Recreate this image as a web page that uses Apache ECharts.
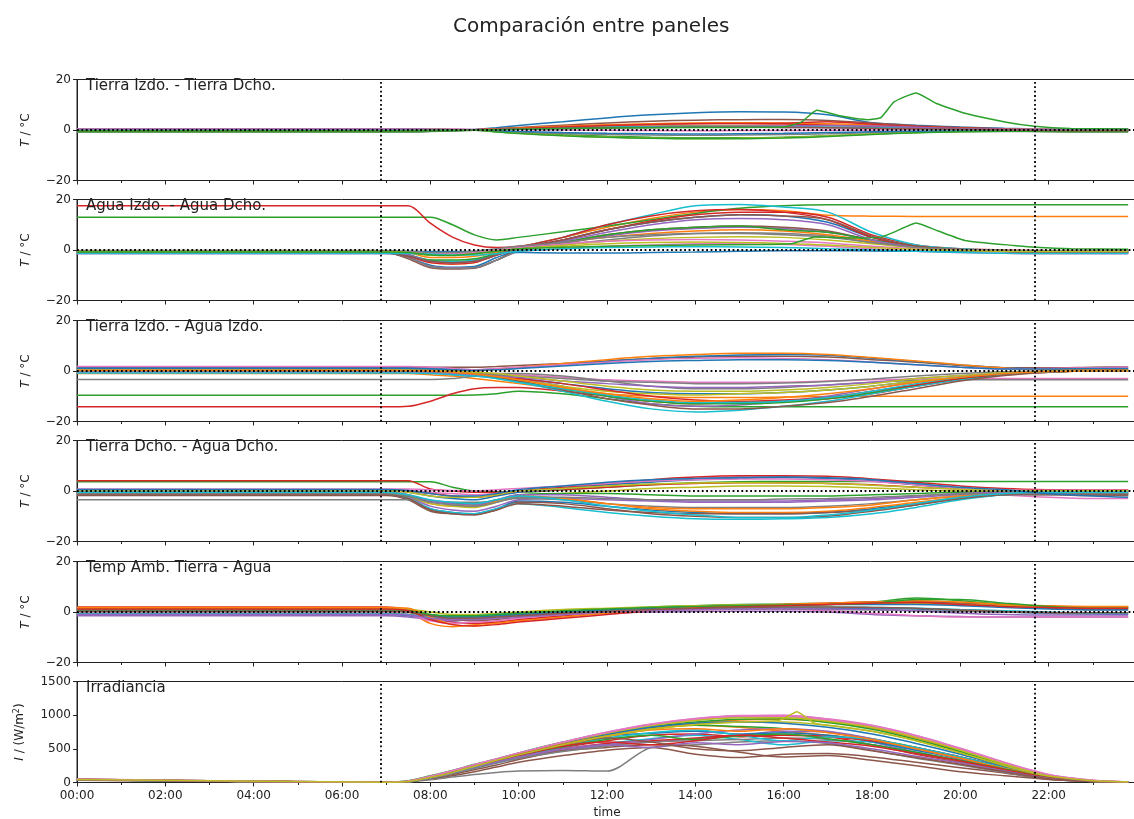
<!DOCTYPE html>
<html>
<head>
<meta charset="utf-8">
<script src="https://cdn.jsdelivr.net/npm/echarts/dist/echarts.min.js"></script>
<style>
  html, body { margin: 0; padding: 0; background: #fff; }
  #chart { width: 1134px; height: 819px; }
</style>
</head>
<body>
<div id="chart"></div>
<script>
// ---- labels ----
const TITLE = 'Comparación entre paneles';
const PANEL_LABELS = [
  'Tierra Izdo. - Tierra Dcho.',
  'Agua Izdo. - Agua Dcho.',
  'Tierra Izdo. - Agua Izdo.',
  'Tierra Dcho. - Agua Dcho.',
  'Temp Amb. Tierra - Agua',
  'Irradiancia'
];
const T_TICKS = [-20, 0, 20];
const I_TICKS = [0, 500, 1000, 1500];
const X_TICK_HOURS = [0, 2, 4, 6, 8, 10, 12, 14, 16, 18, 20, 22];
const MARK_HOURS = [6.88, 21.69];   // sunrise / sunset

// ---- sample hours (h) shared by the curves below ----
const HOURS = [0, 7, 7.5, 8, 8.5, 9, 9.5, 10, 11, 12, 13, 14, 15, 16, 17, 18, 19, 20, 21, 22, 23, 23.8];

// Tierra Izdo. - Tierra Dcho. (°C)
const P1_LINES = [
  [ 0.1, 0.1, 0.1, 0.1, 0.1, 0.2, 0.9, 1.8, 3.3, 4.8, 6.0, 6.8, 7.2, 7.1, 6.0, 2.9, 1.9, 1.2, 0.7, 0.3, 0.2, 0.2],
  [-0.3,-0.3,-0.3,-0.2,-0.1, 0.1, 0.3, 0.6, 1.0, 1.4, 1.6, 1.7, 1.7, 1.5, 1.2, 0.8, 0.5, 0.3, 0.1, 0.0,-0.1,-0.1],
  [-0.6,-0.6,-0.6,-0.5,-0.3, 0.0,-0.6,-1.1,-1.9,-2.5,-2.9,-3.1,-3.1,-2.9,-2.3,-1.6,-1.0,-0.6,-0.4,-0.4,-0.5,-0.5],
  [ 0.4, 0.4, 0.4, 0.3, 0.2, 0.1, 0.4, 0.7, 1.3, 1.9, 2.3, 2.6, 2.6, 2.4, 2.0, 1.4, 0.9, 0.5, 0.3, 0.2, 0.2, 0.2],
  [-0.2,-0.2,-0.2,-0.1, 0.0, 0.1, 0.3, 0.5, 0.8, 1.0, 1.1, 1.2, 1.1, 1.0, 0.9, 0.7, 0.5, 0.3, 0.1, 0.0,-0.1,-0.2],
  [ 0.0, 0.0, 0.0, 0.0, 0.0, 0.1, 0.5, 1.0, 1.9, 2.8, 3.5, 3.9, 4.1, 4.2, 3.8, 2.8, 1.7, 1.0, 0.5, 0.2, 0.1, 0.1],
  [ 0.5, 0.5, 0.5, 0.4, 0.3, 0.2, 0.2, 0.1, 0.0,-0.1,-0.2,-0.3,-0.2,-0.2,-0.1, 0.0, 0.1, 0.2, 0.3, 0.4, 0.5, 0.5],
  [-0.8,-0.8,-0.8,-0.6,-0.4,-0.1,-0.5,-0.9,-1.4,-1.8,-2.0,-2.1,-2.0,-1.8,-1.5,-1.1,-0.8,-0.6,-0.6,-0.7,-0.8,-0.8],
  [-0.4,-0.4,-0.4,-0.3,-0.2, 0.0,-0.7,-1.3,-2.2,-2.8,-3.2,-3.4,-3.3,-3.0,-2.4,-1.6,-1.0,-0.6,-0.4,-0.4,-0.4,-0.4],
  [ 0.2, 0.2, 0.2, 0.2, 0.1, 0.1, 0.3, 0.5, 0.9, 1.2, 1.4, 1.5, 1.5, 1.4, 1.2, 1.0, 0.7, 0.4, 0.2, 0.2, 0.2, 0.2],
  [-0.5,-0.5,-0.5,-0.4,-0.2, 0.0,-0.3,-0.6,-1.0,-1.3,-1.5,-1.6,-1.5,-1.3,-1.0,-0.7,-0.5,-0.4,-0.4,-0.5,-0.5,-0.5],
  [ 0.2, 0.2, 0.2, 0.2, 0.1, 0.1, 0.4, 0.8, 1.5, 2.1, 2.5, 2.8, 2.9, 2.8, 2.5, 2.0, 1.3, 0.7, 0.3, 0.2, 0.2, 0.2],
  [-0.7,-0.7,-0.7,-0.5,-0.3,-0.1,-0.8,-1.4,-2.3,-2.9,-3.3,-3.5,-3.5,-3.2,-2.6,-1.8,-1.1,-0.7,-0.5,-0.6,-0.7,-0.7],
  [-0.1,-0.1,-0.1,-0.1, 0.0, 0.1, 0.3, 0.6, 1.2, 1.8, 2.2, 2.5, 2.6, 2.7, 3.3, 2.3, 1.4, 0.8, 0.4, 0.1, 0.0,-0.1],
  [ 0.3, 0.3, 0.3, 0.2, 0.2, 0.1, 0.2, 0.4, 0.6, 0.8, 1.0, 1.2, 1.4, 1.6, 1.8, 1.6, 1.1, 0.6, 0.3, 0.2, 0.3, 0.3],
  [-0.3,-0.3,-0.3,-0.2,-0.1, 0.0, 0.2, 0.4, 0.7, 0.9, 1.0, 1.1, 1.1, 1.0, 0.9, 0.7, 0.5, 0.3, 0.0,-0.2,-0.3,-0.3]
];
// [hour, °C] for the curve with the evening spike
const P1_SPIKE = [[0,-0.3],[7,-0.3],[9,0],[10,0.3],[12,0.8],[14,1],[16,1.2],[16.4,3.1],[16.75,7.8],[17.3,5.5],
  [17.9,4.1],[18.2,4.9],[18.5,11.1],[19.0,14.7],[19.46,10.5],[20.13,6.5],[21.04,3.1],[21.68,1.5],[22.5,0.6],[23.8,0.4]];

// Agua Izdo. - Agua Dcho. (°C)
const P2_LINES = [
  [-1.0,-1.0,-3.0,-6.0,-6.8,-6.5,-3.0, 0.0, 4.0, 8.0,11.0,13.0,14.0,13.5,11.0, 5.0, 1.5, 0.2,-0.5,-0.8,-0.9,-0.9],
  [-0.5,-0.5,-2.0,-5.0,-5.5,-5.0,-2.0, 1.0, 5.0, 9.0,12.5,15.0,16.0,15.5,13.8,13.4,13.3,13.3,13.3,13.3,13.3,13.3],
  [13.0,13.0,13.0,13.0,10.0, 6.0, 4.0, 5.0, 7.2, 9.5,12.0,14.5,16.5,17.5,17.9,17.9,17.9,17.9,17.9,17.9,17.9,17.9],
  [17.5,17.5,17.5,10.6, 5.1, 2.0, 1.0, 1.5, 4.0, 8.0,11.5,14.0,15.0,15.0,13.0, 6.0, 2.0, 0.5, 0.0,-0.3,-0.5,-0.5],
  [-1.2,-1.2,-3.0,-6.5,-7.0,-7.0,-4.0,-0.5, 2.5, 5.5, 7.5, 8.5, 9.0, 8.5, 7.0, 4.0, 1.5, 0.3,-0.5,-1.0,-1.2,-1.2],
  [-1.0,-1.0,-3.5,-7.0,-7.5,-7.2,-4.0, 0.0, 3.0, 6.0, 8.0, 9.0, 9.5, 9.0, 7.5, 4.0, 1.5, 0.3,-0.5,-0.8,-1.0,-1.0],
  [-1.5,-1.5,-1.5,-1.5,-1.5,-1.2,-1.0,-0.5, 0.5, 1.5, 2.0, 2.5, 2.5, 2.2, 1.5, 0.5,-0.5,-1.0,-1.3,-1.5,-1.5,-1.5],
  [-1.0,-1.0,-3.0,-6.5,-7.2,-7.0,-4.0,-0.5, 2.0, 4.0, 5.5, 6.5, 6.8, 6.5, 5.5, 3.0, 1.0, 0.0,-0.5,-0.8,-1.0,-1.0],
  [-0.5,-0.5,-1.0,-2.0,-2.0,-1.5,-0.5, 0.5, 2.0, 3.5, 4.5, 5.0, 5.2, 5.0, 4.0, 2.5, 1.0, 0.3,-0.2,-0.4,-0.5,-0.5],
  [-0.8,-0.8,-2.0,-4.0,-4.5,-4.0,-1.5, 1.0, 5.0,10.0,14.0,17.5,18.0,17.0,15.0, 7.0, 2.0, 0.5,-0.3,-0.6,-0.8,-0.8],
  [-0.6,-0.6,-0.6,-0.6,-0.6,-0.6,-0.8,-1.0,-1.2,-1.2,-1.0,-0.8,-0.5,-0.3,-0.3,-0.4,-0.5,-0.5,-0.6,-0.6,-0.6,-0.6],
  [-0.3,-0.3,-1.0,-3.0,-3.0,-2.5,-1.0, 1.0, 3.0, 5.0, 6.5, 7.5, 8.0, 7.5, 6.0, 3.5, 1.2, 0.2,-0.3,-0.4,-0.4,-0.4],
  [-0.8,-0.8,-2.0,-4.0,-4.0,-3.5,-1.5, 0.5, 3.0, 6.0, 8.0, 9.0, 9.5, 8.0, 7.0, 4.0, 1.5, 0.2,-0.4,-0.7,-0.8,-0.8],
  [-1.0,-1.0,-2.5,-5.0,-5.5,-5.0,-2.0, 1.0, 5.0,10.0,13.5,15.5,16.0,15.0,12.0, 5.0, 1.5, 0.2,-0.5,-0.8,-1.0,-1.0],
  [-0.8,-0.8,-2.0,-4.5,-5.0,-4.5,-2.0, 0.5, 3.5, 7.0,10.0,12.0,12.5,12.0,10.0, 4.0, 1.2, 0.2,-0.4,-0.7,-0.8,-0.8],
  [-1.3,-1.3,-2.5,-4.5,-5.0,-4.5,-2.0, 0.5, 4.0, 8.0,11.0,13.0,14.0,13.5,12.0, 5.5, 1.5, 0.2,-0.6,-1.0,-1.3,-1.3],
  [-0.4,-0.4,-0.8,-1.5,-1.5,-1.0, 0.0, 1.0, 2.5, 3.5, 4.0, 4.2, 4.0, 3.5, 2.8, 1.5, 0.5, 0.0,-0.3,-0.4,-0.4,-0.4],
  [-0.2,-0.2,-0.5,-1.0,-1.0,-0.5, 0.5, 1.5, 3.0, 5.0, 6.0, 6.5, 6.5, 6.0, 5.0, 3.0, 1.0, 0.2,-0.1,-0.2,-0.2,-0.2],
  [-0.6,-0.6,-1.0,-2.0,-2.0,-1.5,-0.5, 0.5, 1.5, 2.5, 3.0, 3.2, 3.0, 2.6, 2.0, 1.0, 0.3,-0.2,-0.5,-0.6,-0.6,-0.6],
  [-1.4,-1.4,-1.4,-1.6,-2.0,-2.0,-1.5,-0.5, 0.5, 1.0, 1.2, 1.3, 1.2, 1.0, 0.5, 0.0,-0.5,-1.0,-1.3,-1.4,-1.4,-1.4]
];
const P2_SPIKE = [[0,-0.8],[7,-0.8],[7.5,-1],[8,-2],[8.5,-2.2],[9,-1.5],[9.5,-0.5],[10,0.5],[12,1.5],[14,2],[15.5,2.2],
  [16.2,2.6],[16.7,5.1],[17.5,4.8],[18.2,5.1],[18.5,7.1],[19,10.7],[19.5,7.5],[20.1,3.8],[21.2,1.8],[21.7,1.1],[22.5,0.5],[23.8,0.3]];

// Tierra Izdo. - Agua Izdo. (°C)
const P3_LINES = [
  [ 0.5, 0.5, 0.0,-0.5,-1.5,-2.0,-2.5,-3.0,-5.0,-7.0,-8.5,-9.0,-9.0,-8.5,-7.5,-6.0,-4.0,-2.5,-1.0, 0.0, 0.3, 0.4],
  [-1.0,-1.0,-1.0,-1.5,-2.0,-3.0,-4.0,-5.0,-7.0,-9.0,-10.0,-10.5,-10.5,-10.3,-10.1,-10.0,-10.0,-10.0,-10.0,-10.0,-10.0,-10.0],
  [-9.6,-9.6,-9.6,-9.6,-9.6,-9.5,-9.0,-8.0,-9.0,-11.0,-13.0,-14.0,-14.2,-14.2,-14.2,-14.2,-14.2,-14.2,-14.2,-14.2,-14.2,-14.2],
  [-14.2,-14.2,-14.0,-12.0,-9.0,-7.0,-6.5,-6.5,-8.0,-10.0,-12.0,-13.0,-12.5,-12.0,-11.0,-9.0,-6.0,-3.5,-1.5,-0.5, 0.0, 0.0],
  [ 1.0, 1.0, 0.8, 0.5, 0.0,-0.5,-1.5,-3.0,-6.0,-10.0,-13.0,-14.0,-13.5,-12.0,-10.0,-7.0,-4.5,-2.5,-1.0,-0.2, 0.2, 0.3],
  [ 1.5, 1.5, 1.5, 1.5, 1.5, 1.5, 1.8, 2.2, 3.0, 4.0, 5.0, 5.5, 5.8, 5.8, 5.5, 4.5, 3.5, 2.2, 1.3, 1.3, 1.5, 1.6],
  [-0.5,-0.5,-0.5,-0.8,-1.0,-1.0,-1.0,-1.5,-2.5,-3.5,-4.0,-4.5,-4.5,-4.5,-4.0,-3.5,-3.2,-3.0,-3.0,-3.0,-3.0,-3.0],
  [-3.4,-3.4,-3.4,-3.4,-3.0,-2.0,-1.0,-1.0,-2.0,-4.0,-6.0,-7.0,-7.0,-6.5,-5.5,-4.5,-3.8,-3.5,-3.5,-3.5,-3.5,-3.5],
  [ 0.8, 0.8, 0.8, 0.5, 0.0,-1.0,-2.0,-3.5,-6.0,-8.0,-9.0,-9.5,-9.0,-8.5,-7.5,-6.0,-4.0,-2.5,-1.0,-0.3, 0.0, 0.0],
  [ 0.3, 0.3, 0.2, 0.0,-0.5,-1.5,-3.0,-4.5,-8.0,-12.0,-15.0,-16.2,-15.5,-14.0,-12.0,-9.0,-6.0,-3.5,-1.5,-0.3, 0.0, 0.0],
  [ 1.2, 1.2, 1.2, 1.0, 0.8, 0.5, 0.8, 1.2, 2.5, 3.8, 5.0, 5.8, 6.3, 6.5, 6.2, 5.0, 3.8, 2.4, 1.2, 0.8, 0.8, 0.8],
  [ 0.8, 0.8, 0.7, 0.5, 0.3, 0.0, 0.8, 1.5, 3.0, 4.5, 5.8, 6.5, 7.0, 7.0, 6.5, 5.3, 4.0, 2.5, 1.2, 0.6, 0.6, 0.6],
  [ 0.2, 0.2, 0.0,-0.3,-0.8,-1.5,-2.5,-4.0,-7.0,-10.0,-12.0,-13.0,-13.0,-12.5,-11.0,-8.5,-5.5,-3.0,-1.2,-0.3, 0.0, 0.0],
  [ 0.5, 0.5, 0.3, 0.0,-0.5,-1.0,-2.0,-3.0,-5.0,-7.5,-10.0,-11.5,-12.0,-11.5,-10.5,-8.0,-5.5,-3.0,-1.2,-0.3, 0.0, 0.0],
  [ 0.0, 0.0,-0.2,-0.5,-1.0,-1.5,-2.0,-2.5,-4.0,-5.0,-6.0,-6.5,-6.5,-6.0,-5.5,-4.5,-3.0,-1.8,-0.8,-0.2, 0.0, 0.0],
  [ 0.5, 0.5, 0.5, 0.3, 0.0,-1.0,-2.5,-4.0,-7.5,-11.0,-13.5,-15.0,-15.0,-14.0,-12.5,-10.0,-7.0,-4.0,-1.8,-0.5, 0.2, 0.3],
  [ 1.8, 1.8, 1.8, 1.5, 1.0, 0.5, 1.0, 1.5, 2.5, 3.5, 4.5, 5.0, 5.2, 5.0, 4.5, 3.5, 2.5, 1.5, 0.8, 1.0, 1.3, 1.5],
  [ 0.0, 0.0, 0.0,-0.2,-0.5,-1.0,-1.5,-2.0,-3.0,-4.0,-4.5,-5.0,-5.0,-4.8,-4.2,-3.2,-2.0,-1.0,-0.3, 0.0, 0.0, 0.0],
  [ 0.5, 0.5, 0.5, 0.3, 0.0,-0.5,-1.0,-2.0,-4.0,-6.0,-7.5,-8.0,-8.0,-7.5,-6.5,-5.0,-3.0,-1.8,-0.7,-0.1, 0.1, 0.2],
  [-0.8,-0.8,-0.8,-1.0,-1.5,-2.0,-3.0,-4.5,-7.0,-9.5,-11.5,-12.5,-12.5,-12.0,-10.5,-8.0,-5.0,-2.5,-1.0,-0.2, 0.0, 0.0],
  [ 1.0, 1.0, 1.0, 0.8, 0.5, 0.2, 0.5, 1.0, 2.0, 3.0, 3.8, 4.2, 4.5, 4.5, 4.2, 3.5, 2.5, 1.5, 0.8, 0.8, 1.0, 1.0],
  [ 0.3, 0.3, 0.2, 0.0,-0.5,-1.2,-2.2,-3.5,-6.5,-9.0,-11.0,-12.0,-11.5,-10.5,-9.0,-7.0,-4.5,-2.5,-1.0,-0.2, 0.0, 0.0]
];

// Tierra Dcho. - Agua Dcho. (°C)
const P4_LINES = [
  [-1.5,-1.5,-3.0,-7.0,-8.5,-9.0,-7.0,-4.0,-4.5,-6.0,-7.5,-8.5,-9.0,-9.0,-8.5,-7.0,-5.0,-3.0,-1.5,-1.0,-1.2,-1.3],
  [-0.5,-0.5,-2.0,-5.0,-6.0,-6.0,-4.0,-2.0,-3.0,-5.0,-7.0,-8.0,-8.5,-8.5,-8.0,-6.5,-4.5,-2.5,-1.0,-0.5,-0.5,-0.5],
  [ 3.7, 3.7, 3.7, 3.7, 1.5, 0.0,-0.3,-0.5, 0.5, 1.5, 2.5, 3.3, 3.7, 3.8, 3.8, 3.8, 3.8, 3.8, 3.8, 3.8, 3.8, 3.8],
  [ 4.1, 4.1, 4.1, 0.8, 0.0,-0.5,-0.5,-0.3, 0.5, 1.5, 2.5, 3.0, 3.3, 3.3, 3.0, 2.5, 1.5, 0.8, 0.4, 0.3, 0.3, 0.3],
  [-1.0,-1.0,-2.5,-6.0,-7.5,-8.0,-6.0,-3.5,-3.0,-3.5,-4.0,-4.5,-4.5,-4.5,-4.0,-3.5,-2.5,-1.5,-1.0,-1.0,-1.0,-1.0],
  [-1.8,-1.8,-3.5,-8.0,-9.0,-9.2,-7.5,-4.5,-5.0,-7.0,-9.0,-10.0,-10.5,-10.5,-10.0,-8.0,-5.5,-3.0,-1.5,-1.5,-1.8,-1.8],
  [ 0.5, 0.5, 0.3,-0.5,-1.0,-1.5,-1.0,-0.5, 1.0, 2.5, 4.0, 5.0, 5.5, 5.5, 5.0, 4.0, 2.5, 0.5,-1.5,-2.5,-3.0,-3.0],
  [-3.5,-3.5,-3.5,-4.0,-4.5,-4.5,-4.0,-3.0,-3.5,-5.0,-6.0,-6.5,-6.5,-6.5,-6.0,-5.0,-3.5,-2.0,-1.5,-1.5,-1.5,-1.5],
  [-0.8,-0.8,-2.0,-5.0,-6.0,-6.5,-4.5,-2.0,-1.0, 0.0, 1.0, 1.5, 2.0, 2.0, 1.8, 1.2, 0.5, 0.0,-0.3,-0.5,-0.6,-0.6],
  [-1.2,-1.2,-3.0,-7.0,-8.5,-9.0,-7.0,-5.0,-6.5,-8.5,-10.0,-11.0,-11.2,-11.0,-10.5,-9.0,-6.5,-3.5,-1.5,-1.0,-1.2,-1.2],
  [ 0.0, 0.0,-0.5,-2.0,-3.0,-3.5,-2.0,-0.5, 1.0, 2.5, 3.5, 4.5, 5.0, 5.3, 5.0, 4.0, 2.5, 1.0, 0.2, 0.0, 0.0, 0.0],
  [-0.3,-0.3,-1.5,-4.0,-5.0,-5.5,-4.0,-2.0,-3.0,-5.0,-6.5,-7.0,-7.0,-7.0,-6.5,-5.5,-3.5,-2.0,-0.8,-0.3,-0.3,-0.3],
  [-1.0,-1.0,-2.0,-4.0,-5.0,-5.0,-3.5,-1.5,-1.0,-1.0,-1.5,-2.0,-2.0,-2.0,-2.0,-1.5,-1.0,-0.5,-0.5,-0.8,-1.0,-1.0],
  [ 0.3, 0.3, 0.0,-1.0,-2.0,-2.5,-1.5, 0.0, 1.5, 3.0, 4.5, 5.5, 6.0, 6.0, 5.8, 4.8, 3.5, 2.0, 1.0, 0.5, 0.3, 0.3],
  [-0.5,-0.5,-1.5,-4.0,-5.0,-5.5,-3.5,-1.5,-1.5,-2.5,-3.5,-4.0,-4.0,-4.0,-3.5,-3.0,-2.0,-1.0,-0.5,-0.5,-0.5,-0.5],
  [-1.5,-1.5,-3.0,-7.5,-9.0,-9.5,-7.5,-5.0,-6.0,-7.5,-8.5,-9.0,-9.0,-9.0,-8.5,-7.5,-5.5,-3.0,-1.5,-1.2,-1.5,-1.5],
  [ 0.8, 0.8, 0.8, 0.5, 0.2, 0.0, 0.5, 1.0, 2.0, 3.0, 4.0, 4.5, 4.8, 4.8, 4.5, 3.8, 2.5, 1.2, 0.5, 0.3, 0.3, 0.3],
  [-1.0,-1.0,-2.0,-4.5,-5.5,-6.0,-4.5,-2.5,-2.5,-3.0,-3.5,-3.5,-3.5,-3.2,-3.0,-2.5,-1.8,-1.2,-1.0,-1.0,-1.0,-1.0],
  [ 0.2, 0.2,-0.5,-2.0,-2.5,-2.5,-1.5, 0.0, 1.0, 2.0, 2.8, 3.2, 3.3, 3.2, 3.0, 2.3, 1.5, 0.7, 0.2, 0.1, 0.1, 0.1],
  [-0.5,-0.5,-1.5,-3.5,-4.5,-5.0,-3.5,-2.0,-3.5,-6.0,-8.0,-9.5,-10.5,-10.5,-9.5,-7.5,-5.0,-2.5,-1.0,-0.5,-0.5,-0.5],
  [ 0.6, 0.6, 0.2,-1.0,-2.0,-2.0,-1.0, 0.5, 2.0, 3.5, 4.5, 5.0, 5.3, 5.5, 5.2, 4.5, 3.0, 1.5, 0.5,-1.0,-2.0,-2.5]
];

// Temp Amb. Tierra - Agua (°C)
const P5_LINES = [
  [-1.0,-1.0,-1.5,-3.0,-3.5,-3.0,-2.5,-2.0,-1.0, 0.0, 0.5, 1.0, 1.3, 1.5, 1.5, 1.5, 1.2, 0.5, 0.0,-0.5,-0.8,-1.0],
  [ 1.0, 1.0, 0.0,-4.5,-5.8,-5.0,-4.0,-3.0,-1.5, 0.0, 1.0, 1.8, 2.3, 2.6, 3.0, 3.2, 3.5, 3.0, 2.5, 2.0, 1.8, 1.8],
  [ 1.5, 1.5, 1.0,-1.0,-2.0,-2.0,-1.5,-1.0, 0.0, 1.0, 2.0, 2.5, 3.0, 3.2, 3.5, 4.0, 5.5, 4.5, 3.0, 2.0, 1.8, 1.8],
  [ 2.0, 2.0, 1.0,-2.0,-4.0,-4.5,-4.0,-3.0,-1.5, 0.0, 1.2, 2.0, 2.5, 3.0, 3.5, 4.0, 4.2, 3.5, 2.5, 2.0, 2.0, 2.0],
  [-1.5,-1.5,-2.0,-3.0,-3.5,-3.0,-2.5,-2.0,-1.0,-0.5, 0.0, 0.2, 0.3, 0.3, 0.0,-1.0,-1.5,-1.8,-2.0,-2.0,-2.0,-2.0],
  [ 0.5, 0.5, 0.0,-2.0,-3.0,-3.5,-3.0,-2.0,-1.0, 0.0, 0.8, 1.5, 2.0, 2.5, 3.0, 3.5, 4.0, 3.5, 2.5, 1.5, 1.0, 1.0],
  [ 0.0, 0.0,-1.0,-3.5,-4.5,-4.0,-3.5,-2.5,-1.0,-0.3, 0.3, 0.8, 1.0, 1.0, 0.5,-0.5,-1.5,-2.0,-2.0,-2.0,-2.0,-2.0],
  [-0.5,-0.5,-1.0,-2.0,-2.5,-2.0,-1.5,-1.0,-0.5, 0.0, 0.5, 1.0, 1.2, 1.2, 1.0, 0.8, 0.5, 0.2, 0.0,-0.3,-0.5,-0.5],
  [ 1.5, 1.5, 1.2, 0.0,-1.0,-1.0,-0.5, 0.0, 1.0, 1.5, 2.0, 2.5, 2.8, 3.0, 3.2, 3.5, 3.5, 3.0, 2.5, 2.0, 1.8, 1.8],
  [-0.8,-0.8,-1.0,-2.0,-2.0,-1.5,-1.0,-0.5, 0.0, 0.5, 1.0, 1.5, 1.8, 2.0, 2.0, 1.8, 1.5, 1.0, 0.5, 0.0,-0.5,-0.5],
  [ 0.5, 0.5, 0.0,-1.5,-2.0,-2.0,-1.5,-1.0, 0.0, 0.8, 1.5, 2.0, 2.5, 2.8, 3.0, 3.0, 3.0, 2.5, 1.8, 1.2, 0.8, 0.8],
  [ 1.8, 1.8, 1.5,-2.0,-5.0,-5.5,-4.5,-3.5,-2.0,-0.5, 0.8, 1.8, 2.5, 3.0, 3.5, 4.0, 4.5, 4.0, 3.0, 2.5, 2.2, 2.2],
  [ 0.8, 0.8, 0.5,-1.0,-1.5,-1.5,-1.0,-0.5, 0.5, 1.2, 1.8, 2.2, 2.5, 2.8, 3.0, 3.5, 5.0, 5.0, 3.5, 2.2, 1.5, 1.5],
  [ 1.2, 1.2, 0.5,-3.0,-5.0,-5.5,-5.0,-4.0,-2.5,-1.0, 0.5, 1.5, 2.0, 2.5, 3.0, 3.5, 3.8, 3.0, 2.2, 1.8, 1.5, 1.5],
  [-1.0,-1.0,-1.2,-2.5,-3.0,-3.0,-2.5,-2.0,-1.0, 0.0, 0.5, 1.0, 1.2, 1.3, 1.2, 1.0, 0.5,-0.5,-1.0,-1.2,-1.2,-1.2],
  [ 0.3, 0.3, 0.0,-1.5,-2.5,-2.5,-2.0,-1.5,-0.5, 0.3, 1.0, 1.5, 1.8, 2.0, 2.0, 1.8, 1.5, 0.8, 0.2,-0.2,-0.3,-0.3]
];

// Irradiancia (W/m²)
const P6_LINES = [
  [45, 3, 15, 80, 160, 250, 335, 420, 580, 730, 850, 930, 975, 985, 930, 830, 680, 490, 280, 100, 25, 6],
  [40, 3, 15, 75, 150, 240, 320, 400, 560, 700, 800, 850, 820, 760, 700, 620, 500, 370, 210, 80, 20, 5],
  [50, 5, 25, 100, 180, 270, 350, 440, 600, 740, 820, 850, 830, 800, 750, 650, 520, 380, 230, 90, 25, 6],
  [45, 4, 15, 70, 140, 230, 310, 390, 520, 620, 700, 720, 680, 700, 680, 560, 420, 300, 180, 70, 20, 5],
  [40, 3, 12, 70, 140, 220, 300, 380, 470, 550, 600, 650, 700, 760, 750, 600, 450, 320, 190, 70, 20, 5],
  [35, 2, 10, 50, 100, 160, 230, 300, 400, 480, 520, 420, 370, 420, 430, 380, 300, 220, 140, 50, 15, 4],
  [50, 5, 20, 90, 175, 265, 350, 435, 595, 745, 865, 945, 990, 995, 940, 845, 695, 505, 295, 115, 32, 8],
  [40, 3, 10, 40, 80, 120, 150, 170, 180, 170, 520, 560, 600, 620, 580, 480, 360, 260, 150, 50, 15, 4],
  [45, 4, 15, 75, 150, 240, 330, 410, 560, 690, 790, 860, 900, 900, 850, 760, 620, 440, 250, 95, 25, 6],
  [40, 3, 12, 70, 140, 220, 290, 360, 480, 580, 650, 700, 640, 560, 620, 600, 480, 350, 200, 75, 20, 5],
  [45, 4, 14, 80, 155, 245, 330, 410, 560, 690, 730, 760, 720, 740, 700, 610, 480, 360, 220, 85, 22, 5],
  [40, 3, 14, 75, 150, 240, 320, 400, 540, 680, 790, 880, 930, 940, 900, 810, 660, 470, 270, 100, 25, 6],
  [45, 4, 18, 85, 165, 255, 340, 425, 580, 720, 830, 900, 940, 945, 890, 790, 640, 460, 260, 95, 25, 6],
  [45, 4, 15, 75, 150, 230, 310, 390, 500, 580, 620, 660, 700, 700, 680, 620, 520, 380, 230, 90, 22, 5],
  [42, 3, 13, 70, 140, 220, 300, 370, 480, 560, 640, 720, 780, 800, 760, 650, 500, 350, 210, 80, 20, 5],
  [38, 3, 12, 60, 120, 190, 260, 340, 470, 520, 560, 540, 450, 380, 400, 330, 250, 160, 100, 45, 15, 4],
  [48, 4, 18, 85, 170, 260, 345, 430, 590, 735, 850, 930, 975, 980, 925, 830, 680, 490, 285, 105, 28, 7],
  [40, 3, 12, 65, 130, 210, 290, 360, 460, 540, 600, 620, 640, 660, 640, 560, 430, 310, 180, 65, 18, 4],
  [45, 4, 16, 80, 160, 250, 335, 420, 575, 720, 840, 920, 960, 960, 910, 820, 670, 480, 275, 100, 25, 6],
  [42, 3, 14, 72, 145, 230, 310, 390, 530, 660, 740, 780, 700, 620, 680, 640, 520, 380, 220, 80, 20, 5],
  [44, 4, 15, 78, 155, 245, 330, 415, 570, 710, 820, 880, 900, 880, 820, 720, 580, 420, 240, 90, 22, 5],
  [46, 4, 16, 80, 160, 250, 335, 420, 570, 690, 780, 800, 760, 800, 740, 640, 500, 360, 210, 80, 20, 5],
  [44, 4, 15, 75, 150, 235, 315, 395, 530, 640, 700, 640, 690, 720, 650, 560, 450, 330, 200, 75, 20, 5],
  [46, 4, 16, 78, 155, 240, 320, 400, 540, 600, 560, 620, 700, 660, 600, 540, 430, 320, 190, 70, 18, 5],
  [43, 3, 14, 72, 145, 230, 305, 380, 500, 560, 520, 590, 560, 610, 590, 500, 390, 290, 170, 65, 18, 4],
  [47, 4, 17, 82, 162, 250, 330, 410, 560, 660, 600, 500, 470, 520, 560, 470, 370, 270, 160, 60, 17, 4],
  [52, 5, 22, 92, 175, 265, 350, 440, 600, 750, 870, 950, 995, 1000, 945, 850, 700, 510, 300, 120, 35, 9]
];
const P6_SPIKE = [[0,45],[7,4],[7.5,15],[8,75],[8.5,150],[9,240],[9.5,330],[10,410],[11,560],[12,690],[13,790],[14,860],
  [15,900],[15.9,920],[16.3,1050],[16.7,880],[17,850],[18,760],[19,620],[20,440],[21,250],[22,95],[23,25],[23.8,6]];

// ---- drawing ----
const TAB10 = ['#1f77b4', '#ff7f0e', '#2ca02c', '#d62728', '#9467bd',
               '#8c564b', '#e377c2', '#7f7f7f', '#bcbd22', '#17becf'];
const INK = '#222';
const FONT = 'DejaVu Sans';
const PANEL_TOPS = [79.5, 199.5, 320.5, 440.5, 561.5, 681.5];
const PANEL_H = 101;
const PLOT_LEFT = 77;
const PLOT_W = 1060;   // the 24 h span runs a little past the right edge of the page

const PANELS = [
  { lines: P1_LINES, extra: [{ pts: P1_SPIKE, color: '#2ca02c' }], temp: true },
  { lines: P2_LINES, extra: [{ pts: P2_SPIKE, color: '#2ca02c' }], temp: true },
  { lines: P3_LINES, extra: [], temp: true },
  { lines: P4_LINES, extra: [], temp: true },
  { lines: P5_LINES, extra: [], temp: true },
  { lines: P6_LINES, extra: [{ pts: P6_SPIKE, color: '#bcbd22' }], temp: false }
];

const fmtTick = v => String(v).replace('-', '\u2212');
const fmtHour = v => (v >= 24 ? '' : (v < 10 ? '0' : '') + v + ':00');
const dotted = { color: '#000', width: 1.8, type: [1.8, 2.6] };

const grids = [], xAxes = [], yAxes = [], series = [];

PANELS.forEach((p, gi) => {
  const last = gi === PANELS.length - 1;
  grids.push({
    left: PLOT_LEFT, width: PLOT_W, top: PANEL_TOPS[gi], height: PANEL_H,
    outerBoundsMode: 'none', containLabel: false,
    show: true, borderColor: INK, borderWidth: 1, backgroundColor: 'transparent'
  });
  xAxes.push({
    gridIndex: gi, type: 'value', min: 0, max: 24, interval: 2,
    axisLine: { show: true, onZero: false, lineStyle: { color: INK, width: 1 } },
    axisTick: { show: true, length: 4, lineStyle: { color: INK } },
    minorTick: { show: true, splitNumber: 2, length: 2.5, lineStyle: { color: INK } },
    splitLine: { show: false },
    axisLabel: { show: last, fontSize: 12, color: INK, fontFamily: FONT, margin: 7, formatter: fmtHour },
    name: last ? 'time' : '', nameLocation: 'middle', nameGap: 24,
    nameTextStyle: { fontSize: 12, color: INK, fontFamily: FONT }
  });
  const ticks = p.temp ? T_TICKS : I_TICKS;
  yAxes.push({
    gridIndex: gi, type: 'value', min: ticks[0], max: ticks[ticks.length - 1],
    interval: ticks[1] - ticks[0],
    axisLine: { show: true, lineStyle: { color: INK, width: 1 } },
    axisTick: { show: true, length: 4, lineStyle: { color: INK } },
    splitLine: { show: false },
    axisLabel: { fontSize: 12, color: INK, fontFamily: FONT, margin: 6, formatter: fmtTick },
    name: p.temp ? '{i|T} / \u00b0C' : '{i|I} / (W/m{s|2})',
    nameLocation: 'middle', nameGap: p.temp ? 44 : 50,
    nameTextStyle: {
      fontSize: 12, color: INK, fontFamily: FONT, lineHeight: 14,
      rich: {
        i: { fontStyle: 'italic', fontSize: 12, color: INK, fontFamily: FONT, lineHeight: 14 },
        s: { fontSize: 8, color: INK, fontFamily: FONT, verticalAlign: 'top', lineHeight: 14 }
      }
    }
  });

  const base = {
    type: 'line', xAxisIndex: gi, yAxisIndex: gi, symbol: 'none', showSymbol: false,
    smooth: 0.3, silent: true, animation: false, z: 2
  };
  p.lines.forEach((vals, k) => {
    const color = TAB10[k % 10];
    series.push(Object.assign({}, base, {
      data: HOURS.map((h, j) => [h, vals[j]]),
      lineStyle: { width: 1.5, color }, itemStyle: { color }
    }));
  });
  p.extra.forEach(e => {
    series.push(Object.assign({}, base, {
      smooth: 0.15,
      data: e.pts,
      lineStyle: { width: 1.5, color: e.color }, itemStyle: { color: e.color }
    }));
  });
  // zero line and sunrise / sunset markers
  series.push({
    type: 'line', xAxisIndex: gi, yAxisIndex: gi, symbol: 'none', silent: true, animation: false, z: 5,
    data: [[0, 0], [24, 0]],
    lineStyle: p.temp ? dotted : { width: 0, opacity: 0 },
    markLine: {
      silent: true, symbol: ['none', 'none'], label: { show: false }, animation: false,
      lineStyle: dotted,
      data: MARK_HOURS.map(h => ({ xAxis: h }))
    }
  });
});

const chart = echarts.init(document.getElementById('chart'), null, { renderer: 'canvas' });
chart.setOption({
  backgroundColor: '#fff',
  animation: false,
  textStyle: { fontFamily: FONT },
  title: {
    text: TITLE, left: 448, top: 12,
    textStyle: { fontSize: 20, fontWeight: 'normal', color: INK, fontFamily: FONT }
  },
  graphic: PANEL_LABELS.map((t, i) => ({
    type: 'text', left: 86, top: PANEL_TOPS[i] - 1, z: 10, silent: true,
    style: { text: t, fontSize: 15, fontFamily: FONT, fill: INK }
  })),
  grid: grids,
  xAxis: xAxes,
  yAxis: yAxes,
  series: series
});
</script>
</body>
</html>
